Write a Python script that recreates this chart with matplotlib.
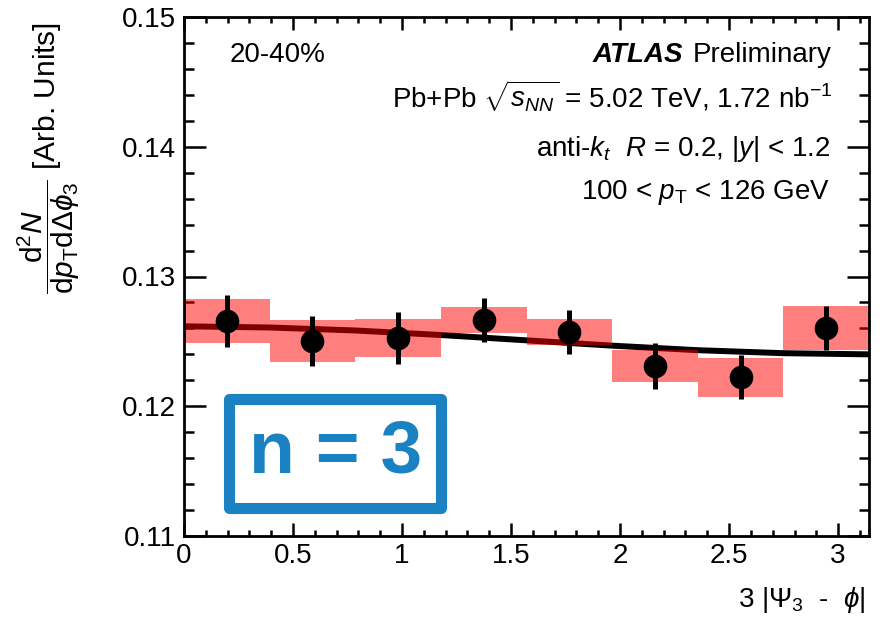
import numpy as np
import matplotlib
matplotlib.use("Agg")
import matplotlib.pyplot as plt
from matplotlib.patches import Rectangle

plt.rcParams["font.family"] = ["Liberation Sans", "DejaVu Sans"]
plt.rcParams["mathtext.fontset"] = "custom"
plt.rcParams["mathtext.rm"] = "Liberation Sans"
plt.rcParams["mathtext.it"] = "Liberation Sans:italic"
plt.rcParams["mathtext.bf"] = "Liberation Sans:bold"

# data
bin_edges = np.linspace(0, np.pi, 9)
values = [0.12656, 0.12502, 0.12523, 0.12662, 0.12569, 0.12310, 0.12223, 0.12600]
stat_err = [0.0020, 0.0019, 0.0020, 0.0017, 0.0017, 0.0018, 0.0017, 0.0017]
sys_err = [0.0017, 0.0016, 0.00146, 0.0010, 0.0010, 0.0012, 0.0015, 0.0017]

# fit curve, read at the bin edges
fit_x = bin_edges
fit_y = [0.12616, 0.12607, 0.12584, 0.12549, 0.12508, 0.12467, 0.12432, 0.12409, 0.12400]

centers = 0.5 * (bin_edges[:-1] + bin_edges[1:])
widths = np.diff(bin_edges)

FS = 20

fig = plt.figure(figsize=(8.83, 6.26), dpi=100)
ax = fig.add_axes([184 / 883, 1 - 536 / 626, 685 / 883, 519 / 626])

ax.plot(fit_x, fit_y, color="black", lw=4.3, zorder=1, solid_capstyle="butt")
ax.bar(centers, 2 * np.array(sys_err), width=widths, bottom=np.array(values) - np.array(sys_err),
       color="red", alpha=0.5, linewidth=0, zorder=2)
ax.errorbar(centers, values, yerr=stat_err, fmt="o", color="black", ms=16, elinewidth=3.6,
            capsize=0, zorder=3)

ax.set_xlim(0, np.pi)
ax.set_ylim(0.11, 0.15)
ax.set_xticks([0, 0.5, 1, 1.5, 2, 2.5, 3])
ax.set_xticklabels(["0", "0.5", "1", "1.5", "2", "2.5", "3"])
ax.set_xticks(np.arange(0.1, 3.15, 0.1), minor=True)
ax.set_yticks([0.11, 0.12, 0.13, 0.14, 0.15])
ax.set_yticklabels(["0.11", "0.12", "0.13", "0.14", "0.15"])
ax.set_yticks(np.arange(0.112, 0.1495, 0.002), minor=True)

for s in ax.spines.values():
    s.set_linewidth(2)
ax.tick_params(which="both", direction="in", top=True, right=True, width=1.8, labelsize=FS)
ax.tick_params(axis="y", which="major", length=16, pad=6)
ax.tick_params(axis="y", which="minor", length=7.5)
ax.tick_params(axis="x", which="major", length=9.5, pad=5)
ax.tick_params(axis="x", which="minor", length=4.5)

# n = 3 box
ax.add_patch(Rectangle((0.0664, 0.0549), 0.3095, 0.21, transform=ax.transAxes, fill=False,
                       edgecolor="#1a82c3", lw=8, joinstyle="round", zorder=4))
ax.text(0.221, 0.16, "n = 3", transform=ax.transAxes, ha="center", va="center",
        fontsize=54, fontweight="bold", color="#1a82c3", zorder=5)

ax.text(0.067, 0.913, "20-40%", transform=ax.transAxes, ha="left", va="baseline", fontsize=FS)
prelim = ax.text(0.946, 0.913, "Preliminary", transform=ax.transAxes, ha="right",
                 va="baseline", fontsize=FS)
ax.text(0.946, 0.8265, r"Pb+Pb $\sqrt{s_{NN}}$ = 5.02 TeV, 1.72 nb$^{\mathrm{-1}}$",
        transform=ax.transAxes, ha="right", va="baseline", fontsize=FS)
ax.text(0.943, 0.732, r"anti-$k_{t}$  $R$ = 0.2, |$y$| < 1.2", transform=ax.transAxes,
        ha="right", va="baseline", fontsize=FS)
ax.text(0.943, 0.649, r"100 < $p_{\mathrm{T}}$ < 126 GeV", transform=ax.transAxes,
        ha="right", va="baseline", fontsize=FS)

fig.canvas.draw()
bb = prelim.get_window_extent().transformed(ax.transAxes.inverted())
ax.text(bb.x0 - 0.014, 0.913, "ATLAS", transform=ax.transAxes, ha="right", va="baseline",
        fontsize=FS, fontweight="bold", fontstyle="italic")

fig.text(49 / 883, 1 - 158 / 626,
         r"$\dfrac{\mathrm{d}^{2}N}{\mathrm{d}p_{\mathrm{T}}\mathrm{d}\Delta\phi_{3}}$ [Arb. Units]",
         rotation=90, ha="center", va="center", fontsize=21.5)
fig.text(866 / 883, 1 - 607 / 626, r"3 |$\mathrm{\Psi}_{3}$  -  $\phi$|", ha="right",
         va="baseline", fontsize=FS)

fig.savefig("out.png", dpi=100)
plt.close(fig)
